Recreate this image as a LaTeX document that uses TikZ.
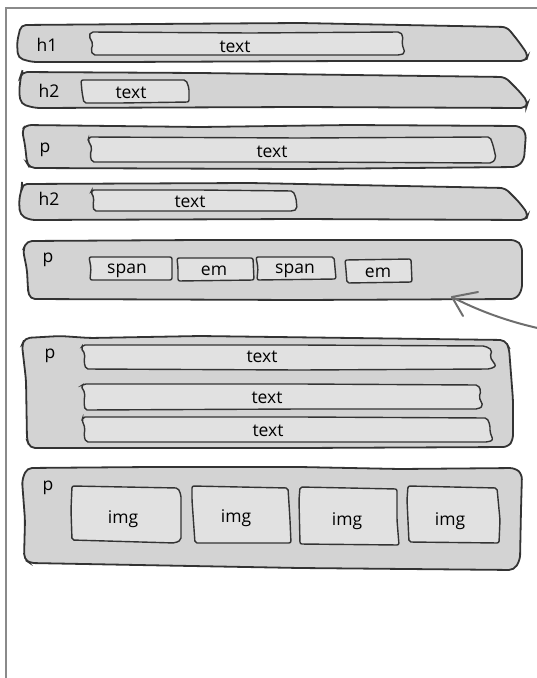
\documentclass[tikz,border=0pt]{standalone}
\usepackage{fontspec}
\setmainfont{Open Sans}
\definecolor{barfill}{HTML}{D3D3D3}
\definecolor{innerfill}{HTML}{E1E1E1}
\definecolor{edge}{HTML}{333333}
\definecolor{framec}{HTML}{8A8A8A}
\definecolor{arrc}{HTML}{6E6E6E}
\begin{document}
\begin{tikzpicture}[x=1pt,y=-1pt,
  bar/.style={fill=barfill, draw=edge, line width=1.8pt, rounded corners=5pt},
  inner/.style={fill=innerfill, draw=edge, line width=1.4pt, rounded corners=2pt},
  lbl/.style={font=\fontsize{17.5}{20}\selectfont, text=black, inner sep=0pt, anchor=base},
  frameline/.style={draw=framec, line width=2pt},
  arrline/.style={draw=arrc, line width=2pt, line cap=round, line join=round}]
\useasboundingbox (0,0) rectangle (537,678);
\draw[frameline] (6,678) -- (6,8) -- (537,8);

% bar 1 (h1)
\draw[bar] (21,25) -- (150,24) -- (300,23) -- (507,27) -- (519,42) -- (528,55) -- (526,61) -- (350,61) -- (120,62) -- (32,62) -- (18,58) -- (17,42) -- cycle;
\draw[inner] (91,32) -- (250,33) -- (400,32) -- (403,36) -- (402,44) -- (405,53) -- (400,55) -- (250,55) -- (93,55) -- (91,50) -- (93,44) -- (89,36) -- cycle;
\node[lbl] (h1) at (47,51) {h1};
\node[lbl] (t1) at (235,52) {text};

% bar 2 (h2)
\draw[bar] (22,72) -- (200,73) -- (505,77) -- (519,91) -- (528,102) -- (526,108) -- (300,107) -- (35,108) -- (21,104) -- (19,92) -- (21,75) -- cycle;
\draw[inner] (81,80) -- (186,80) -- (189,88) -- (189,102) -- (120,103) -- (84,103) -- (82,92) -- cycle;
\node[lbl] (h2a) at (49,97) {h2};
\node[lbl] (t2) at (131,98) {text};

% bar 3 (p)
\draw[bar] (26,125) -- (200,127) -- (350,125) -- (520,126) -- (526,133) -- (524,160) -- (517,167) -- (300,169) -- (30,168) -- (27,163) -- (25,145) -- (22,130) -- cycle;
\draw[inner] (89,137) -- (300,138) -- (490,137) -- (493,145) -- (496,158) -- (492,163) -- (300,162) -- (92,162) -- (90,155) -- (92,148) -- (88,140) -- cycle;
\node[lbl] (p1) at (45,152) {p};
\node[lbl] (t3) at (272,157) {text};

% bar 4 (h2)
\draw[bar] (22,184) -- (250,183) -- (505,188) -- (519,202) -- (528,214) -- (526,220) -- (300,219) -- (30,220) -- (20,215) -- (19,200) -- (22,187) -- cycle;
\draw[inner] (92,190) -- (200,190) -- (293,191) -- (296,198) -- (297,209) -- (293,211) -- (150,211) -- (94,211) -- (93,205) -- (94,198) -- (91,192) -- cycle;
\node[lbl] (h2b) at (49,205) {h2};
\node[lbl] (t4) at (190,207) {text};

% bar 5 (p with inline elements)
\draw[bar] (27,241) -- (200,240) -- (400,240) -- (516,240) -- (522,246) -- (522,290) -- (516,299) -- (300,300) -- (30,299) -- (28,290) -- (27,270) -- (23,250) -- cycle;
\draw[inner] (89,257) -- (172,257) -- (172,280) -- (90,280) -- (91,268) -- cycle;
\draw[inner] (177,258) -- (253,258) -- (254,280) -- (178,281) -- (178,268) -- cycle;
\draw[inner] (256,257) -- (334,257) -- (336,279) -- (257,280) -- (258,268) -- cycle;
\draw[inner] (345,260) -- (411,259) -- (412,282) -- (347,283) -- (346,270) -- cycle;
\node[lbl] (p2) at (48,262) {p};
\node[lbl] (s1) at (127,273) {span};
\node[lbl] (e1) at (214,275) {em};
\node[lbl] (s2) at (295,273) {span};
\node[lbl] (e2) at (378,277) {em};
\coordinate (p2tip) at (452,297);

% arrow
\coordinate (arrfrom) at (542,329);
\draw[arrline] (arrfrom) .. controls (505,321) and (475,309) .. (p2tip);
\draw[arrline] (478,292) -- (p2tip) -- (463,316);

% bar 6 (p with three lines)
\draw[bar] (25,338) -- (60,336) -- (90,338) -- (200,336) -- (505,340) -- (509,348) -- (513,400) -- (513,440) -- (508,447) -- (300,448) -- (30,448) -- (27,440) -- (26,380) -- (22,345) -- cycle;
\draw[inner] (83,345) -- (300,345) -- (485,346) -- (492,350) -- (490,357) -- (496,366) -- (490,369) -- (300,370) -- (86,369) -- (84,362) -- (85,354) -- (81,348) -- cycle;
\draw[inner] (84,384) -- (300,384) -- (478,385) -- (481,391) -- (479,397) -- (483,406) -- (478,409) -- (300,409) -- (85,410) -- (84,402) -- (85,393) -- (81,386) -- cycle;
\draw[inner] (83,417) -- (300,417) -- (487,418) -- (490,425) -- (490,432) -- (493,440) -- (488,442) -- (300,442) -- (86,442) -- (84,436) -- (85,428) -- (82,420) -- cycle;
\node[lbl] (p3) at (50,358) {p};
\node[lbl] (t5) at (262,362) {text};
\node[lbl] (t6) at (267,403) {text};
\node[lbl] (t7) at (268,436) {text};

% bar 7 (p with images)
\draw[bar] (27,468) -- (150,467) -- (300,467) -- (400,469) -- (515,468) -- (522,474) -- (521,510) -- (520,560) -- (514,570) -- (300,568) -- (30,563) -- (24,559) -- (25,520) -- (22,480) -- cycle;
\draw[inner] (72,486) -- (178,488) -- (181,495) -- (181,540) -- (175,543) -- (72,540) -- (71,510) -- cycle;
\draw[inner] (192,486) -- (288,488) -- (290,520) -- (291,543) -- (195,543) -- (192,500) -- cycle;
\draw[inner] (300,487) -- (397,489) -- (397,520) -- (399,545) -- (300,544) -- (299,500) -- cycle;
\draw[inner] (408,486) -- (497,488) -- (500,520) -- (499,543) -- (409,542) -- (407,500) -- cycle;
\node[lbl] (p4) at (48,490) {p};
\node[lbl] (i1) at (123,523) {img};
\node[lbl] (i2) at (236,522) {img};
\node[lbl] (i3) at (347,525) {img};
\node[lbl] (i4) at (450,525) {img};
\end{tikzpicture}
\end{document}
